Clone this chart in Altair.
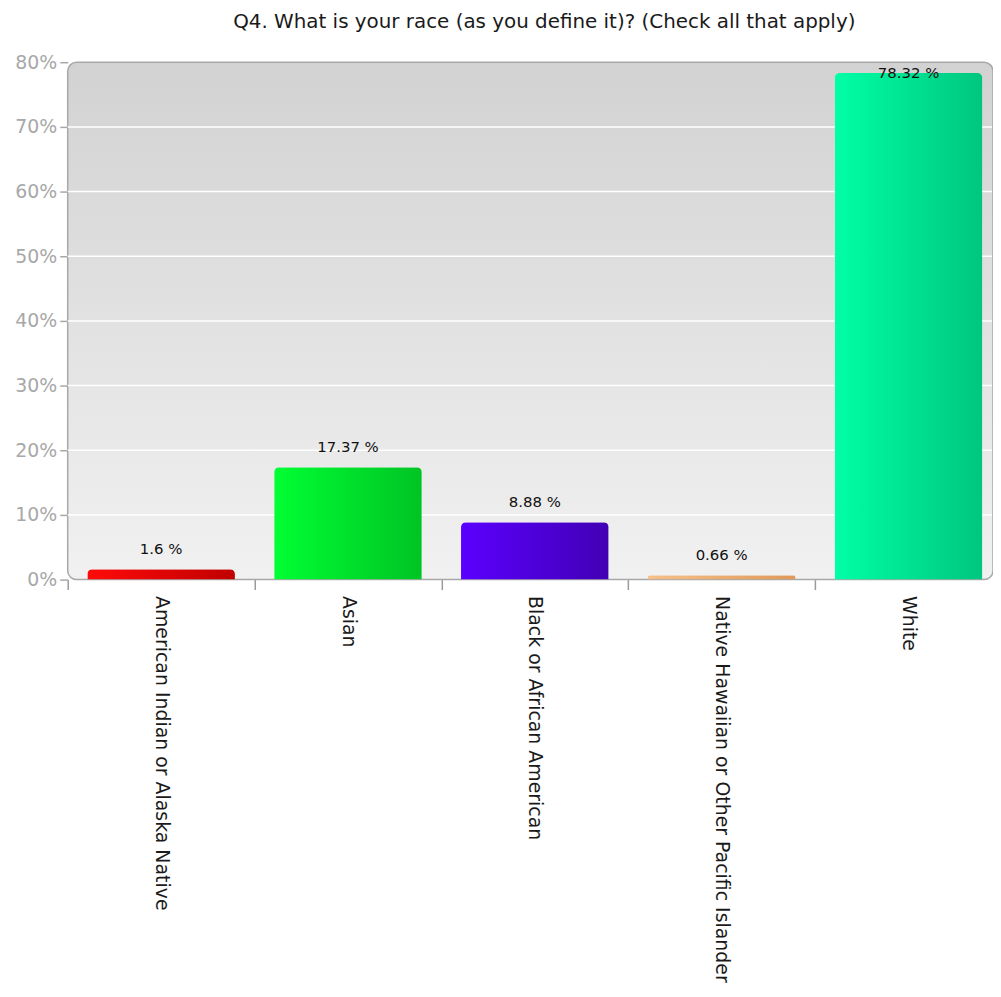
import altair as alt
import pandas as pd

categories = [
    "American Indian or Alaska Native",
    "Asian",
    "Black or African American",
    "Native Hawaiian or Other Pacific Islander",
    "White",
]
values = [1.6, 17.37, 8.88, 0.66, 78.32]
labels = ["1.6 %", "17.37 %", "8.88 %", "0.66 %", "78.32 %"]
y_ticks = [0, 10, 20, 30, 40, 50, 60, 70, 80]
grid_values = [10, 20, 30, 40, 50, 60, 70]

bar_colors = [
    ("#ff0a0a", "#c00000"),
    ("#00ff33", "#00c424"),
    ("#5a00ff", "#4200b4"),
    ("#f5c08a", "#e09a58"),
    ("#00ffa6", "#00c67f"),
]

W, H = 930, 520
FONT = "DejaVu Sans"

df = pd.DataFrame({"cat": categories, "value": values, "label": labels})

x_scale = alt.Scale(range=[0, 939], paddingInner=0, paddingOuter=0)
x_enc = alt.X(
    "cat:N",
    sort=categories,
    scale=x_scale,
    axis=alt.Axis(
        title=None, domain=False, labelAngle=90, labelAlign="left", labelBaseline="middle",
        labelFont=FONT, labelFontSize=19, labelColor="#1a1a1a", labelPadding=6,
        tickSize=10, tickColor="#9a9a9a", tickWidth=1.5, tickBand="extent", labelLimit=500,
    ),
)
y_scale = alt.Scale(domain=[0, 80], nice=False)
y_enc = alt.Y(
    "value:Q",
    scale=y_scale,
    axis=alt.Axis(
        title=None, domain=False, grid=False, values=y_ticks, labelExpr="datum.value + '%'",
        labelFont=FONT, labelFontSize=19, labelColor="#a8a8a8", labelPadding=3,
        tickSize=8, tickColor="#a8a8a8", tickWidth=1.5,
    ),
)

bg = alt.Chart(alt.Data(values=[{"a": 1}])).mark_rect(
    cornerRadius=9,
    stroke="#a8a8a8",
    strokeWidth=1.5,
    fill=alt.LinearGradient(
        gradient="linear", x1=0, x2=0, y1=0, y2=1,
        stops=[alt.GradientStop(offset=0, color="#d2d2d2"), alt.GradientStop(offset=1, color="#f1f1f1")],
    ),
).encode(x=alt.value(0), x2=alt.value(W), y=alt.value(0), y2=alt.value(H))

grid = alt.Chart(pd.DataFrame({"g": grid_values})).mark_rule(color="white", strokeWidth=1.5).encode(
    y=alt.Y("g:Q", scale=y_scale), x=alt.value(0), x2=alt.value(W - 1)
)

layers = [bg, grid]
for cat, (c1, c2) in zip(categories, bar_colors):
    layers.append(
        alt.Chart(df).transform_filter(alt.datum.cat == cat).mark_bar(
            width=alt.RelativeBandSize(0.79),
            cornerRadiusTopLeft=5, cornerRadiusTopRight=5,
            fill=alt.LinearGradient(
                gradient="linear", x1=0, x2=1, y1=0, y2=0,
                stops=[alt.GradientStop(offset=0, color=c1), alt.GradientStop(offset=1, color=c2)],
            ),
        ).encode(x=x_enc, y=y_enc)
    )

text = alt.Chart(df).transform_calculate(ly="min(datum.value + 3.1, 78.3)").mark_text(
    font=FONT, fontSize=15, color="#111111", baseline="middle"
).encode(x=alt.X("cat:N", sort=categories), y=alt.Y("ly:Q", scale=y_scale), text="label:N")
layers.append(text)

chart = alt.layer(*layers).properties(
    width=W, height=H,
    autosize=alt.AutoSizeParams(type="none"),
    padding={"left": 60, "top": 52, "right": 0, "bottom": 416},
    title=alt.TitleParams(
        "Q4. What is your race (as you define it)? (Check all that apply)",
        font=FONT, fontSize=20, fontWeight="normal", color="#1a1a1a", anchor="middle", dx=14, offset=21,
    ),
).configure_view(stroke=None)

chart.save("out.html", embed_options={"renderer": "svg", "actions": False})
